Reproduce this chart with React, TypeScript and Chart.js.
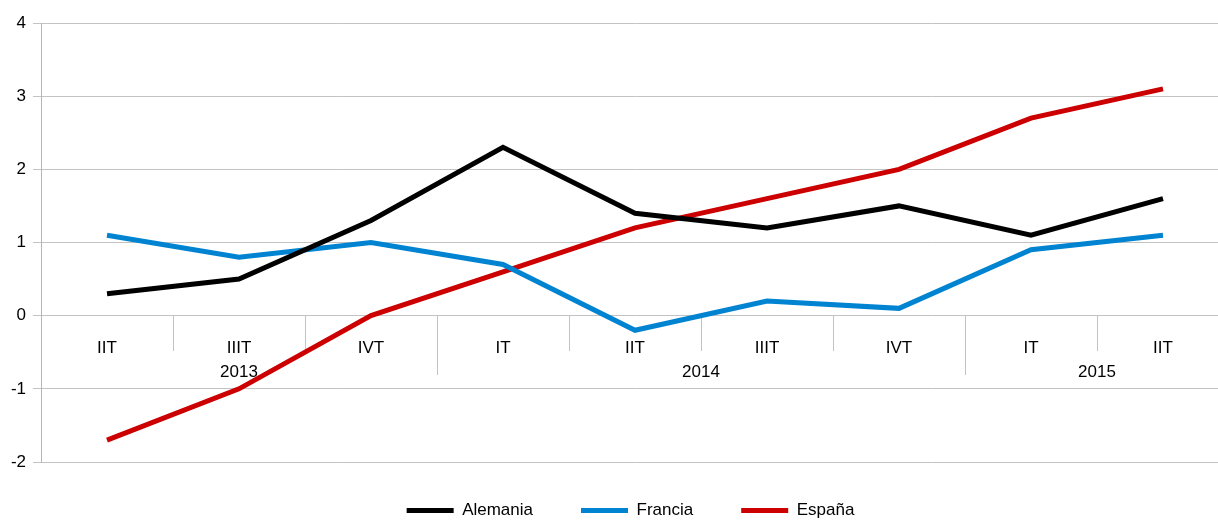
import React, { useEffect, useRef } from "react";
import { Chart, registerables } from "chart.js";

Chart.register(...registerables);

// ---- data ----
const quarters = ["IIT", "IIIT", "IVT", "IT", "IIT", "IIIT", "IVT", "IT", "IIT"];
const years = ["2013", "2014", "2015"];
const yearStart = [0, 3, 7];
const yearEnd = [2, 6, 8];
const alemania = [0.3, 0.5, 1.3, 2.3, 1.4, 1.2, 1.5, 1.1, 1.6];
const francia = [1.1, 0.8, 1.0, 0.7, -0.2, 0.2, 0.1, 0.9, 1.1];
const espana = [-1.7, -1.0, 0.0, 0.6, 1.2, 1.6, 2.0, 2.7, 3.1];
const yMin = -2;
const yMax = 4;

const FONT = "'Liberation Sans Narrow', 'Arial Narrow', 'Liberation Sans', Arial, sans-serif";
const FS = 17;
const GRID = "#c3c3c3";

const axisLabels = {
  id: "axisLabels",
  beforeDatasetsDraw(chart: any) {
    const { ctx, scales } = chart;
    const x = scales.x;
    const y = scales.y;
    const y0 = Math.round(y.getPixelForValue(0));
    const half = (x.getPixelForValue(1) - x.getPixelForValue(0)) / 2;
    ctx.save();
    ctx.strokeStyle = GRID;
    ctx.lineWidth = 1;
    for (let i = 0; i < quarters.length - 1; i++) {
      const bx = Math.round(x.getPixelForValue(i) + half) + 0.5;
      const isYear = yearStart.includes(i + 1);
      ctx.beginPath();
      ctx.moveTo(bx, y0);
      ctx.lineTo(bx, y0 + (isYear ? 59 : 35));
      ctx.stroke();
    }
    ctx.fillStyle = "#000";
    ctx.font = `${FS}px ${FONT}`;
    ctx.textAlign = "center";
    ctx.textBaseline = "middle";
    quarters.forEach((q, i) => ctx.fillText(q, x.getPixelForValue(i), y0 + 32));
    years.forEach((yr, k) => {
      const l = x.getPixelForValue(yearStart[k]) - half;
      const r = x.getPixelForValue(yearEnd[k]) + half;
      ctx.fillText(yr, (l + r) / 2, y0 + 56);
    });
    ctx.restore();
  },
};

const legendShift = {
  id: "legendShift",
  afterLayout(chart: any) {
    const lg = chart.legend;
    if (lg) {
      lg.top -= 8;
      lg.bottom -= 8;
      lg.left += 16;
      lg.right += 16;
    }
  },
};

export default function App() {
  const ref = useRef<HTMLCanvasElement | null>(null);
  useEffect(() => {
    if (!ref.current) return;
    const mk = (label: string, data: number[], color: string) => ({
      label,
      data,
      borderColor: color,
      backgroundColor: color,
      borderWidth: 5,
      pointRadius: 0,
      tension: 0,
      fill: false,
    });
    const chart = new Chart(ref.current, {
      type: "line",
      data: {
        labels: quarters,
        datasets: [
          mk("Alemania", alemania, "#000000"),
          mk("Francia", francia, "#0084d1"),
          mk("España", espana, "#cc0000"),
        ],
      },
      options: {
        animation: false,
        responsive: false,
        layout: { padding: { top: 23, left: 0, right: 0, bottom: 0 } },
        scales: {
          x: { type: "category", offset: true, display: false },
          y: {
            min: yMin,
            max: yMax,
            afterFit: (s: any) => {
              s.width = 41;
            },
            ticks: { stepSize: 1, color: "#000", padding: 7, font: { family: FONT, size: FS } },
            grid: { color: GRID, lineWidth: 1, tickLength: 8, drawTicks: true },
            border: { display: true, color: "#b5b5b5" },
          },
        },
        plugins: {
          tooltip: { enabled: false },
          legend: {
            position: "bottom",
            labels: {
              boxWidth: 47,
              boxHeight: 5,
              padding: 48,
              color: "#000",
              font: { family: FONT, size: FS },
              generateLabels: (c: any) =>
                Chart.defaults.plugins.legend.labels.generateLabels(c).map((it: any) => ({
                  ...it,
                  lineWidth: 0,
                  fillStyle: it.strokeStyle,
                })),
            },
          },
        },
      },
      plugins: [axisLabels, legendShift],
    });
    return () => chart.destroy();
  }, []);
  return (
    <div style={{ position: "fixed", left: 0, top: 0, width: 1218, height: 521, overflow: "hidden", background: "#fff" }}>
      <canvas ref={ref} width={1229} height={537} style={{ display: "block", width: 1229, height: 537 }} />
    </div>
  );
}
